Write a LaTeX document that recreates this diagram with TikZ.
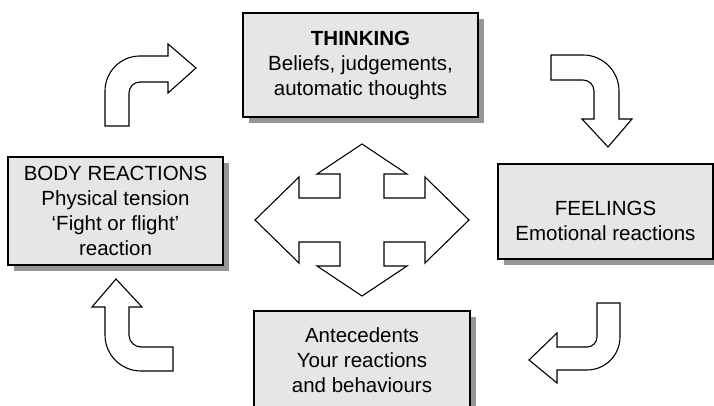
\documentclass[tikz,border=0pt]{standalone}
\usepackage{fontspec}
\setmainfont{Liberation Sans}
\usepackage{tikz}
\usetikzlibrary{shadows}
\definecolor{grisclair}{RGB}{230, 230, 230}
\definecolor{grisombre}{RGB}{150, 150, 150}

\begin{document}
\begin{tikzpicture}[x=1pt, y=-1pt,
    boite/.style={draw=black, line width=1.1pt, fill=grisclair, inner sep=0pt,
      align=center, font=\fontsize{20.5}{25}\selectfont,
      general shadow={fill=grisombre, shadow xshift=6pt, shadow yshift=-6pt}},
    fleche/.style={draw=black, line width=1.1pt, fill=white, line join=miter}]
  \useasboundingbox (0,0) rectangle (714,406);
  \clip (0,0) rectangle (714,406);
  \fill[white] (0,0) rectangle (714,406);

  % the four boxes
  \node[boite, minimum width=235pt, minimum height=104pt] (thinking) at (360.5,65)
    {\textbf{THINKING}\\Beliefs, judgements,\\automatic thoughts};
  \node[boite, minimum width=215pt, minimum height=95pt] (feelings) at (605.5,211.5)
    {\rule{0pt}{34pt}FEELINGS\\Emotional reactions};
  \node[boite, minimum width=216pt, minimum height=98pt] (antecedents) at (362,360)
    {Antecedents\\Your reactions\\and behaviours};
  \node[boite, minimum width=215pt, minimum height=108pt] (body) at (115.5,211)
    {BODY REACTIONS\\Physical tension\\`Fight or flight'\\reaction};

  % curved arrows going round
  \draw[fleche] (105,126) -- (105,91) arc[start angle=180, end angle=270, radius=35]
    -- (168,56) -- (168,44) -- (196,68) -- (168,93) -- (168,82)
    -- (140,82) arc[start angle=270, end angle=180, radius=11] -- (129,126) -- cycle;
  \draw[fleche] (551,55) -- (583,55) arc[start angle=270, end angle=360, radius=36]
    -- (619,119) -- (632,119) -- (608,147) -- (582,119) -- (594,119)
    -- (594,91) arc[start angle=0, end angle=-90, radius=11] -- (551,80) -- cycle;
  \draw[fleche] (597,303) -- (620,303) -- (620,337) arc[start angle=0, end angle=90, radius=33]
    -- (557,370) -- (557,383) -- (529,360) -- (557,333) -- (557,347)
    -- (587,347) arc[start angle=90, end angle=0, radius=10] -- cycle;
  \draw[fleche] (116,279) -- (142,307) -- (129,307)
    -- (129,335) arc[start angle=180, end angle=90, radius=12] -- (173,347) -- (173,371)
    -- (141,371) arc[start angle=90, end angle=180, radius=36] -- (105,307) -- (92,307) -- cycle;

  % four-way arrow in the middle
  \draw[fleche, shift={(362,220)}] (0,-76) -- (45,-46) -- (22,-46) -- (22,-22)
    -- (63,-22) -- (63,-43) -- (107,0) -- (63,43) -- (63,22) -- (22,22)
    -- (22,46) -- (45,46) -- (0,76) -- (-45,46) -- (-22,46) -- (-22,22)
    -- (-63,22) -- (-63,43) -- (-107,0) -- (-63,-43) -- (-63,-22) -- (-22,-22)
    -- (-22,-46) -- (-45,-46) -- cycle;
\end{tikzpicture}
\end{document}
